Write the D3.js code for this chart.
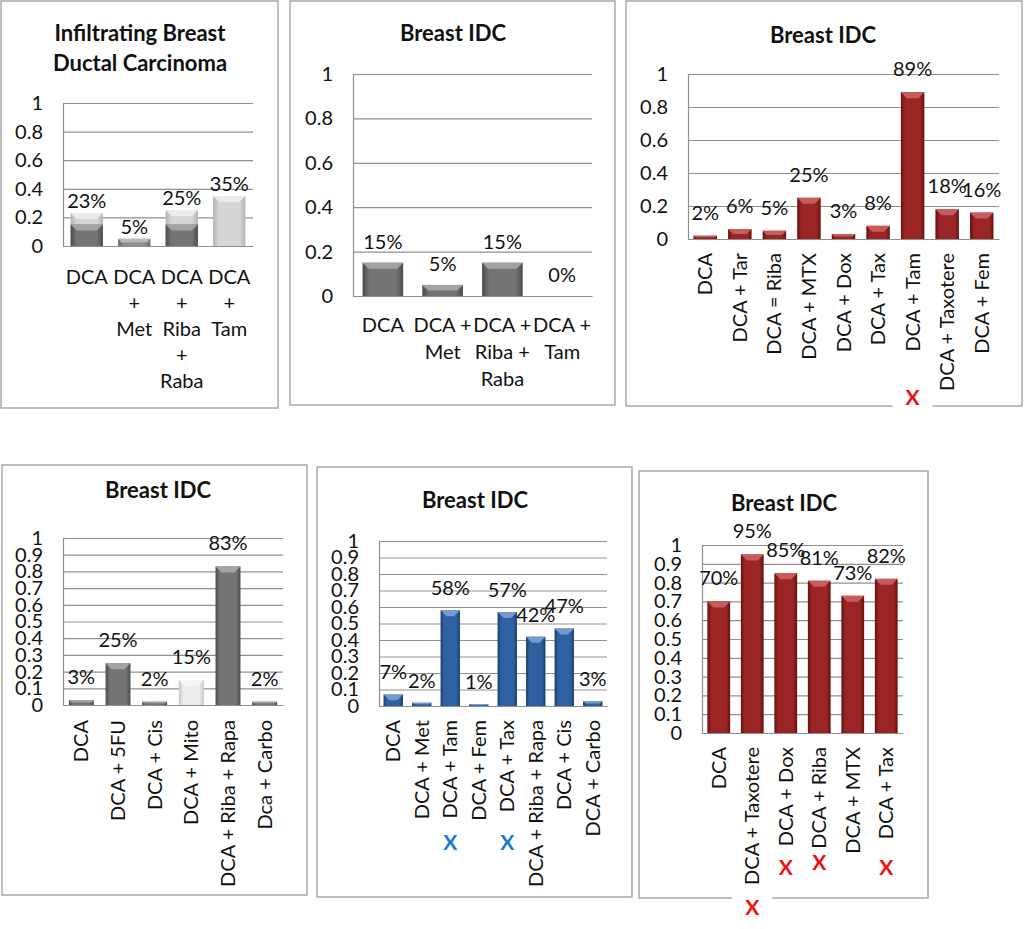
<!DOCTYPE html>
<html><head><meta charset="utf-8">
<script src="https://cdn.jsdelivr.net/npm/d3@7"></script>
<style>
body{margin:0;background:#fff}
text{font-family:Lato,"Open Sans",sans-serif;fill:#111}
</style>
</head><body>
<svg id="c" width="1024" height="929"></svg>
<script>
// ---------- data ----------
const p1Categories = ["DCA","DCA + Met","DCA + Riba + Raba","DCA + Tam"];
const p1Values = [0.23,0.05,0.25,0.35];
const p1Inner = [0.15,0.05,0.15,0];
const p2Categories = ["DCA","DCA + Met","DCA + Riba + Raba","DCA + Tam"];
const p2Values = [0.15,0.05,0.15,0];
const p3Categories = ["DCA","DCA + Tar","DCA = Riba","DCA + MTX","DCA + Dox","DCA + Tax","DCA + Tam","DCA + Taxotere","DCA + Fem"];
const p3Values = [0.02,0.06,0.05,0.25,0.03,0.08,0.89,0.18,0.16];
const p4Categories = ["DCA","DCA + 5FU","DCA + Cis","DCA + Mito","DCA + Riba + Rapa","Dca + Carbo"];
const p4Values = [0.03,0.25,0.02,0.15,0.83,0.02];
const p5Categories = ["DCA","DCA + Met","DCA + Tam","DCA + Fem","DCA + Tax","DCA + Riba + Rapa","DCA + Cis","DCA + Carbo"];
const p5Values = [0.07,0.02,0.58,0.01,0.57,0.42,0.47,0.03];
const p6Categories = ["DCA","DCA + Taxotere","DCA + Dox","DCA + Riba","DCA + MTX","DCA + Tax"];
const p6Values = [0.70,0.95,0.85,0.81,0.73,0.82];
const ticksFifths = [0,0.2,0.4,0.6,0.8,1];
const ticksTenths = [0,0.1,0.2,0.3,0.4,0.5,0.6,0.7,0.8,0.9,1];
const p3Marked = ["DCA + Tam"];
const p5Marked = ["DCA + Tam","DCA + Tax"];
const p6Marked = ["DCA + Taxotere","DCA + Dox","DCA + Riba","DCA + Tax"];

// ---------- styles ----------
const svg = d3.select("#c");
const defs = svg.append("defs");
const palettes = {
  red:   {edge:"#661111", mid:"#9a2524", cap:"#cc6362"},
  blue:  {edge:"#1c3d6c", mid:"#2f609f", cap:"#7aa3d6"},
  dark:  {edge:"#4c4c4c", mid:"#747474", cap:"#a9a9a9"},
  mid:   {edge:"#6a6a6a", mid:"#8e8e8e", cap:"#bdbdbd"},
  light: {edge:"#b3b3b3", mid:"#d6d6d6", cap:"#ededed"},
  white: {edge:"#c4c4c4", mid:"#ececec", cap:"#f8f8f8"}
};
Object.entries(palettes).forEach(([k,p])=>{
  const g = defs.append("linearGradient").attr("id","g-"+k).attr("x1",0).attr("x2",1).attr("y1",0).attr("y2",0);
  [[0,p.edge],[0.18,p.mid],[0.82,p.mid],[1,p.edge]].forEach(([o,c])=>g.append("stop").attr("offset",o).attr("stop-color",c));
});
const fmtPct = d3.format(".0%");

function wrapLines(cat, mode){
  if(mode==="word") return cat.split(" ");
  if(mode==="plus") return cat.split(/(?<=\+) /);
  return [cat];
}

function drawBars(g, data, x, y, bottom){
  const bw = x.bandwidth();
  const gg = g.selectAll(null).data(data).enter().append("g");
  gg.append("rect")
    .attr("x",d=>x(d.cat)).attr("width",bw)
    .attr("y",d=>y(d.v)).attr("height",d=>Math.max(0,bottom-y(d.v)))
    .attr("fill",d=>"url(#g-"+d.pal+")");
  gg.filter(d=>d.v>0).append("path")
    .attr("d",d=>{
      const x0=x(d.cat), x1=x0+bw, t=y(d.v), h=bottom-t, b=Math.min(6,h/2);
      return `M${x0},${t}L${x1},${t}L${x1-b},${t+b}L${x0+b},${t+b}Z`;
    })
    .attr("fill",d=>palettes[d.pal].cap).attr("opacity",0.9);
}

function drawPanel(cfg){
  const [bx0,by0,bx1,by1] = cfg.box;
  const [L,T,R,B] = cfg.plot;
  const fs = 20;
  const g = svg.append("g");
  g.append("rect").attr("x",bx0).attr("y",by0).attr("width",bx1-bx0).attr("height",by1-by0)
    .attr("fill","#fff").attr("stroke","#a9a9a9").attr("stroke-width",1.5);
  cfg.title.forEach((t,i)=>g.append("text").attr("x",cfg.titleX).attr("y",cfg.titleY+i*30)
    .attr("text-anchor","middle").attr("font-weight","bold").attr("font-size",22).text(t));
  const x = d3.scaleBand().domain(cfg.categories).range([L,R]).paddingInner(0.32).paddingOuter(0.16);
  const y = d3.scaleLinear().domain([0,1]).range([B,T]);
  g.append("g").attr("transform",`translate(${L},0)`)
    .call(d3.axisLeft(y).tickValues(cfg.ticks).tickSize(-(R-L)).tickFormat(""))
    .call(s=>{s.selectAll("line").attr("stroke","#8f8f8f").attr("stroke-width",1.2);s.select(".domain").remove();});
  g.append("g").attr("transform",`translate(${L},0)`)
    .call(d3.axisLeft(y).tickValues(cfg.ticks).tickSize(0).tickPadding(20).tickFormat(d=>String(d)))
    .call(s=>{s.select(".domain").attr("stroke","#8f8f8f").attr("stroke-width",1.2);
      s.selectAll("text").attr("font-size",fs).attr("font-family","Lato").attr("fill","#111");});
  if(cfg.inner){
    drawBars(g, cfg.categories.map((c,i)=>({cat:c,v:cfg.values[i],pal:cfg.outerPal[i]})), x, y, B);
    drawBars(g, cfg.categories.map((c,i)=>({cat:c,v:cfg.inner[i],pal:cfg.innerPal[i],top:cfg.values[i]})).filter(d=>d.v>0 && d.v<d.top), x, y, B);
  } else {
    drawBars(g, cfg.categories.map((c,i)=>({cat:c,v:cfg.values[i],pal:cfg.pal[i]})), x, y, B);
  }
  g.append("g").attr("transform",`translate(0,${B})`)
    .call(d3.axisBottom(x).tickSize(0).tickFormat(""))
    .call(s=>s.select(".domain").attr("stroke","#8f8f8f").attr("stroke-width",1.2));
  g.selectAll(null).data(cfg.categories.map((c,i)=>({cat:c,v:cfg.values[i]}))).enter().append("text")
    .attr("x",d=>x(d.cat)+x.bandwidth()/2).attr("y",d=>y(d.v)-cfg.labelOffset)
    .attr("text-anchor","middle").attr("font-size",fs).text(d=>fmtPct(d.v));
  if(cfg.xMode==="rotate"){
    g.selectAll(null).data(cfg.categories).enter().append("text")
      .attr("transform",d=>`translate(${x(d)+x.bandwidth()/2},${B+cfg.xOffset}) rotate(-90)`)
      .attr("text-anchor","end").attr("dy","0.35em").attr("font-size",fs).text(d=>d);
  } else {
    cfg.categories.forEach(c=>{
      wrapLines(c,cfg.xMode).forEach((ln,i)=>g.append("text")
        .attr("x",x(c)+x.bandwidth()/2).attr("y",B+cfg.xOffset+i*cfg.lineH)
        .attr("text-anchor","middle").attr("font-size",fs).text(ln));
    });
  }
  (cfg.marks||[]).forEach((c,i)=>{
    const cx = x(c)+x.bandwidth()/2, cy = cfg.markY[i];
    if(cy>by1-12) g.append("rect").attr("x",cx-20).attr("y",by1-3).attr("width",40).attr("height",6).attr("fill","#fff");
    g.append("text").attr("x",cx).attr("y",cy).attr("text-anchor","middle").attr("dy","0.35em")
      .attr("font-weight","bold").attr("font-size",21).style("fill",cfg.markColor).text("X");
  });
}

drawPanel({box:[1,1,278,408],plot:[63,103,253,246],title:["Infiltrating Breast","Ductal Carcinoma"],titleX:140,titleY:41,
  categories:p1Categories,values:p1Values,inner:p1Inner,outerPal:["light","mid","light","light"],innerPal:["dark","dark","dark","dark"],
  ticks:ticksFifths,labelOffset:5,xMode:"word",xOffset:38,lineH:26});
drawPanel({box:[290,1,615,405],plot:[353,74,592,296],title:["Breast IDC"],titleX:453,titleY:41,
  categories:p2Categories,values:p2Values,pal:p2Values.map(()=>"dark"),
  ticks:ticksFifths,labelOffset:14,xMode:"plus",xOffset:36,lineH:27});
drawPanel({box:[626,1,1022,406],plot:[688,74,999,239],title:["Breast IDC"],titleX:823,titleY:43,
  categories:p3Categories,values:p3Values,pal:p3Values.map(()=>"red"),
  ticks:ticksFifths,labelOffset:16,xMode:"rotate",xOffset:14,
  marks:p3Marked,markY:[398],markColor:"#f01010"});
drawPanel({box:[2,465,307,895],plot:[63,538,283,705],title:["Breast IDC"],titleX:158,titleY:498,
  categories:p4Categories,values:p4Values,pal:["dark","dark","dark","white","dark","dark"],
  ticks:ticksTenths,labelOffset:16,xMode:"rotate",xOffset:15});
drawPanel({box:[317,467,632,897],plot:[379,541,607,706],title:["Breast IDC"],titleX:475,titleY:508,
  categories:p5Categories,values:p5Values,pal:p5Values.map(()=>"blue"),
  ticks:ticksTenths,labelOffset:15,xMode:"rotate",xOffset:14,
  marks:p5Marked,markY:[843,843],markColor:"#1b7ad0"});
drawPanel({box:[639,471,928,898],plot:[702,545,903,733],title:["Breast IDC"],titleX:784,titleY:511,
  categories:p6Categories,values:p6Values,pal:p6Values.map(()=>"red"),
  ticks:ticksTenths,labelOffset:16,xMode:"rotate",xOffset:14,
  marks:p6Marked,markY:[908,868,863,868],markColor:"#f01010"});
</script>
</body></html>
